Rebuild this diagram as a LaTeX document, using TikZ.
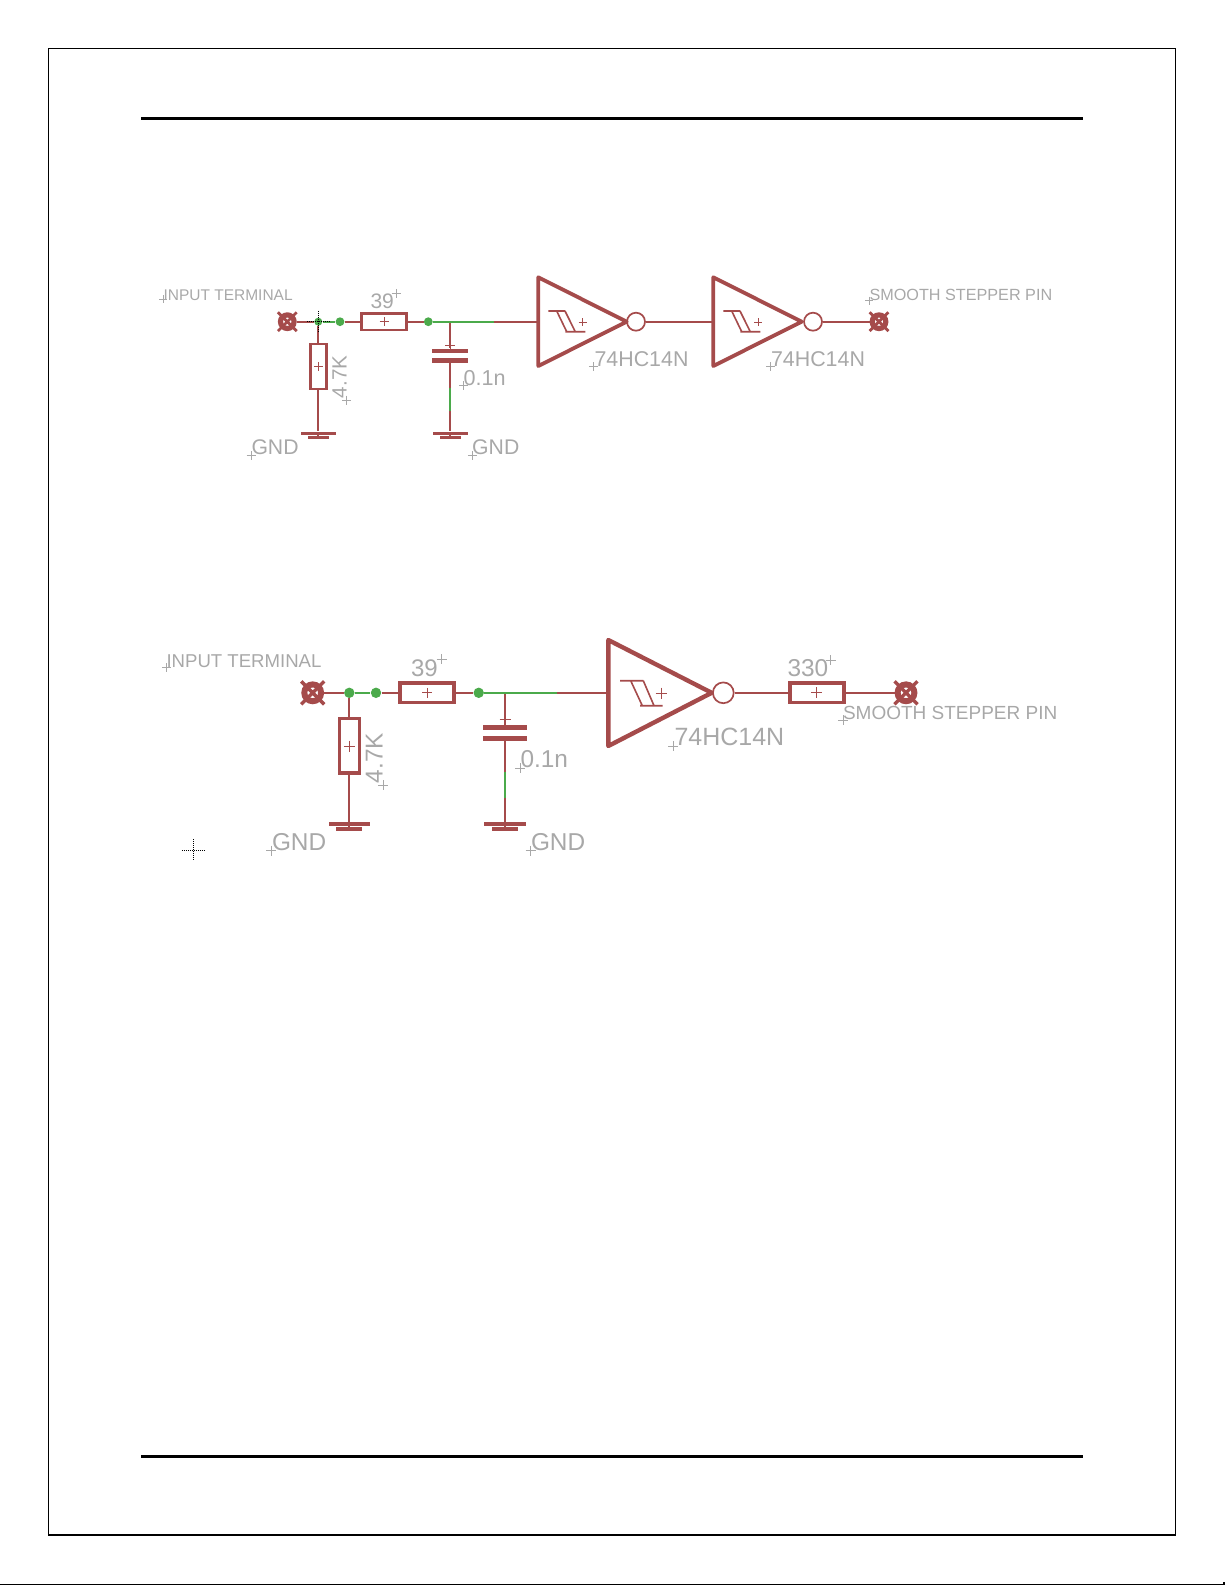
\documentclass[tikz,border=0pt]{standalone}
\usepackage{fontspec}
\setmainfont{Liberation Sans}
\usetikzlibrary{shapes.misc}
\definecolor{symbolRed}{RGB}{165,75,75}
\definecolor{netGreen}{RGB}{75,170,75}
\definecolor{textGray}{RGB}{168,168,168}
\begin{document}
\begin{tikzpicture}
[x=0.5pt,y=-0.5pt,%
  wireDecorate/.style={-,symbolRed,line width=1.1pt},
  netDecorate/.style={-,netGreen,line width=1.1pt},
  junctionDecorate/.style={shape=circle,fill=netGreen,draw=none,inner sep=0pt},
  resistorDecorate/.style={shape=rectangle,draw=symbolRed,inner sep=0pt},
  plateDecorate/.style={shape=rectangle,fill=symbolRed,draw=none,inner sep=0pt},
  bubbleDecorate/.style={shape=circle,draw=symbolRed,inner sep=0pt,line width=0.85pt},
  terminalDecorate/.style={shape=circle,draw=symbolRed,inner sep=0pt},
  terminalCross/.style={shape=cross out,draw=symbolRed,inner sep=0pt},
  gateDecorate/.style={draw=symbolRed,line join=round},
  schmittDecorate/.style={draw=symbolRed,line width=0.8pt},
  labelDecorate/.style={textGray,anchor=base west,inner sep=0pt,outer sep=0pt},
  originDecorate/.style={textGray,line width=0.45pt},
  centerDecorate/.style={symbolRed,line width=0.45pt},
  dotDecorate/.style={black,line width=0.5pt,dash pattern=on 0.5pt off 0.5pt}]
\useasboundingbox (0,0) rectangle (1225,1585);
%% page frame and rules
\draw[black,line width=0.6pt] (48.3,48.3) rectangle (1175.3,1535);
\draw[black,line width=1.6pt] (141,118.3) -- (1083,118.3);
\draw[black,line width=1.6pt] (141,1456.3) -- (1083,1456.3);
\draw[black,line width=0.6pt] (0,1584.4) -- (1224,1584.4) -- (1224,1582);
%% gate bodies, upper sheet and lower sheet
\foreach \gatename/\x in {A/538.3,B/713.3}
{
  \draw[gateDecorate,line width=1.9pt] (\x,277.3) -- (\x+88.4,321.7) -- (\x,366) -- cycle;
  \coordinate (gate\gatename) at (\x,321.7);
  \draw[schmittDecorate] (\x+10,311) -- (\x+26.7,311) (\x+18.4,311) -- (\x+28.4,331.7)
    (\x+26.7,311) -- (\x+37,331.7) (\x+27,331.7) -- (\x+47,331.7);
}
\draw[gateDecorate,line width=2.2pt] (608.3,640) -- (711.7,692.8) -- (608.3,746) -- cycle;
\coordinate (gateC) at (608.3,692.8);
\draw[schmittDecorate] (620,680.7) -- (643.3,680.7) (630.7,680.7) -- (642.3,705.7)
  (643.3,680.7) -- (654,705.7) (640,705.7) -- (662.7,705.7);
%% nodes: junctions
\foreach \nodename/\x/\y/\d in {
  junA/318.3/321.7/4pt, junB/340/321.7/4.4pt, junC/428.3/321.7/4.4pt,
  junD/349.3/692.8/5.2pt, junE/376/692.8/5.2pt, junF/478.7/692.8/5.2pt}
{
  \node (\nodename) at (\x,\y) [junctionDecorate,minimum size=\d] {};
}
%% nodes: resistors
\foreach \nodename/\x/\y/\w/\h/\t in {
  resA/384/321.7/22.7pt/8.2pt/1.4pt, resB/318.3/366.5/8pt/22.5pt/1.4pt,
  resC/427/692.8/27pt/9.8pt/1.7pt, resD/349.3/745.7/10pt/27.3pt/1.7pt,
  resE/817/692.8/27pt/9.8pt/1.7pt}
{
  \node (\nodename) at (\x,\y) [resistorDecorate,minimum width=\w,minimum height=\h,line width=\t] {};
}
%% nodes: capacitor plates and ground bars
\foreach \nodename/\x/\y/\w/\h in {
  capAa/450.3/351/18pt/2.4pt, capAb/450.3/360.3/18pt/2.4pt,
  capBa/505/727.7/21.7pt/2.7pt, capBb/505/738.3/21.7pt/2.7pt,
  gndAa/318.3/433.3/17.3pt/1.5pt, gndAb/318.3/437.3/10.7pt/1.5pt,
  gndBa/450.3/433.3/17.5pt/1.5pt, gndBb/450.3/437.3/10.7pt/1.5pt,
  gndCa/349.3/824/20.8pt/1.8pt, gndCb/349.3/829/13pt/1.8pt,
  gndDa/505/824/21.2pt/1.8pt, gndDb/505/829/13pt/1.8pt}
{
  \node (\nodename) at (\x,\y) [plateDecorate,minimum width=\w,minimum height=\h] {};
}
%% nodes: inverter bubbles and terminals
\foreach \nodename/\x/\y/\d in {
  bubA/636/321.7/9pt, bubB/813/321.7/9pt, bubC/723.3/692.8/10.4pt}
{
  \node (\nodename) at (\x,\y) [bubbleDecorate,minimum size=\d] {};
}
\foreach \nodename/\x/\y/\d/\t/\c/\u in {
  termA/287.3/321.7/6.8pt/2.6pt/8pt/1.4pt, termB/879/321.7/6.8pt/2.6pt/8pt/1.4pt,
  termC/312.7/692.8/8.4pt/3pt/9.8pt/1.7pt, termD/906/692.8/8.4pt/3pt/9.8pt/1.7pt}
{
  \node (\nodename) at (\x,\y) [terminalDecorate,minimum size=\d,line width=\t] {};
  \node (\nodename x) at (\x,\y) [terminalCross,minimum size=\c,line width=\u] {};
}
%% points where the net changes colour
\foreach \nodename/\x/\y in {
  teeA/450.3/321.7, netEndA/494.3/321.7, netCapA/450.3/388.3, netGndA/450.3/411,
  teeB/505/692.8, netEndB/557.3/692.8, netCapB/505/771.7, netGndB/505/798.3}
{
  \coordinate (\nodename) at (\x,\y);
}
%% edges or lines
\path
\foreach \startnode/\endnode in {
  termA/junA, junA/resB, resB/gndAa, gndAa/gndAb, junB/resA, resA/junC,
  netEndA/gateA, teeA/capAa, capAb/netCapA, netGndA/gndBa, gndBa/gndBb,
  bubA/gateB, bubB/termB,
  termC/junD, junD/resD, resD/gndCa, gndCa/gndCb, junE/resC, resC/junF,
  netEndB/gateC, teeB/capBa, capBb/netCapB, netGndB/gndDa, gndDa/gndDb,
  bubC/resE, resE/termD}
{
  (\startnode) edge[wireDecorate] (\endnode)
};
\path
\foreach \startnode/\endnode in {
  junA/junB, junC/teeA, teeA/netEndA, netCapA/netGndA,
  junD/junE, junF/teeB, teeB/netEndB, netCapB/netGndB}
{
  (\startnode) edge[netDecorate] (\endnode)
};
%% labels
\foreach \nodename/\x/\y/\s/\r/\txt in {
  inA/163.5/300.7/7.75/0/INPUT TERMINAL, valA/370.5/308.3/10.5/0/39,
  valB/346.7/398/10.3/90/4.7K, valC/463.5/385/10.8/0/0.1n,
  gndTxtA/251.5/454.3/10.6/0/GND, gndTxtB/472.2/454.3/10.6/0/GND,
  hcA/594.5/366/10.7/0/74HC14N, hcB/771/366/10.7/0/74HC14N,
  outA/869.5/300.5/8.1/0/SMOOTH STEPPER PIN,
  inB/166.5/667.7/9.3/0/INPUT TERMINAL, valD/411/676.7/12/0/39,
  valE/382.5/783/12.2/90/4.7K, valF/520.5/767.7/12.2/0/0.1n,
  gndTxtC/272/850/12.2/0/GND, gndTxtD/531/850/12.2/0/GND,
  hcC/674.5/745.7/12.5/0/74HC14N, valG/787.5/676.7/12.2/0/330,
  outB/843/719/9.5/0/SMOOTH STEPPER PIN}
{
  \node (\nodename) at (\x,\y) [labelDecorate,rotate=\r] {\fontsize{\s}{\s}\selectfont \txt};
}
%% origin marks
\foreach \x/\y/\s in {
  163.3/299.3/4, 396/293.3/4.5, 346.7/400/4.5, 463.3/385.7/4.5, 251/455.7/4.5,
  472.3/455.7/4.5, 593.3/366.7/4.5, 770.7/366.7/4.5, 869/300.7/4,
  166.7/667.7/4.5, 441.7/659.3/5, 383.3/785/5, 520/768.3/5, 271/850.7/5,
  530.7/850.7/5, 673.3/746/5, 830.7/660/5, 843.3/720/5}
{
  \draw[originDecorate] (\x-\s,\y) -- (\x+\s,\y) (\x,\y-\s) -- (\x,\y+\s);
}
%% part centre marks
\foreach \x/\y/\s in {
  384/321.7/4.5, 318.3/366.7/4.5, 450.3/345/5, 582.7/322/4, 758/322/4,
  427/692.8/5, 349.3/746/5.5, 505/719.3/5.5, 661/693/5.5, 816.7/692.8/5.5}
{
  \draw[centerDecorate] (\x-\s,\y) -- (\x+\s,\y) (\x,\y-\s) -- (\x,\y+\s);
}
%% dotted cursor marks
\foreach \x/\y in {318.3/321.7,193.3/850}
{
  \draw[dotDecorate] (\x-11.5,\y) -- (\x+11.5,\y) (\x,\y-11) -- (\x,\y+11);
}
\end{tikzpicture}
\end{document}
